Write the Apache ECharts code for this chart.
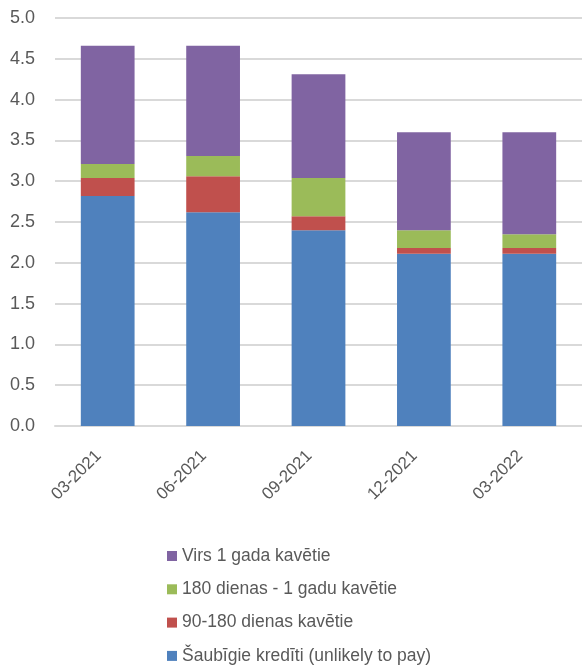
<!DOCTYPE html>
<html>
<head>
<meta charset="utf-8">
<script src="https://cdn.jsdelivr.net/npm/echarts@6/dist/echarts.min.js"></script>
<style>
html,body{margin:0;padding:0;background:#fff}
#main{width:582px;height:668px}
</style>
</head>
<body>
<div id="main"></div>
<script>
var periods=['03-2021','06-2021','09-2021','12-2021','03-2022']
var saubigie=[2.82,2.62,2.40,2.11,2.11]
var d90_180=[0.22,0.44,0.17,0.07,0.07]
var d180_1g=[0.17,0.25,0.47,0.22,0.17]
var virs1g=[1.45,1.35,1.27,1.20,1.25]
var yTicks=[0,5,0.5]

var names=['Šaubīgie kredīti (unlikely to pay)','90-180 dienas kavētie','180 dienas - 1 gadu kavētie','Virs 1 gada kavētie']
var colors=['#4f81bd','#c0504d','#9bbb59','#8064a2']
var vals=[saubigie,d90_180,d180_1g,virs1g]
var font='"Liberation Sans", Arial, sans-serif'

var chart=echarts.init(document.getElementById('main'))
var series=[]
for(var i=0;i<names.length;i++){
	series.push({
		name:names[i],
		type:'bar',
		stack:'kopa',
		barWidth:'51%',
		itemStyle:{color:colors[i]},
		data:vals[i]
	})
}
var option={
	animation:false,
	textStyle:{fontFamily:font},
	grid:{left:55,right:-3,top:18,bottom:242},
	legend:{
		orient:'vertical',
		left:162,
		top:542,
		width:400,
		height:126,
		itemWidth:10,
		itemHeight:10,
		itemGap:15.3,
		icon:'rect',
		data:names.slice().reverse(),
		textStyle:{color:'#595959',fontSize:17.5,fontFamily:font}
	},
	xAxis:{
		type:'category',
		data:periods,
		axisTick:{show:false},
		axisLine:{lineStyle:{color:'#d9d9d9',width:2}},
		axisLabel:{rotate:45,color:'#595959',fontSize:17,margin:18,padding:[0,13,0,0],fontFamily:font}
	},
	yAxis:{
		type:'value',
		min:yTicks[0],
		max:yTicks[1],
		interval:yTicks[2],
		axisLine:{show:false},
		axisTick:{show:false},
		splitLine:{lineStyle:{color:'#d9d9d9',width:2}},
		axisLabel:{color:'#595959',fontSize:18,margin:20,fontFamily:font,formatter:function(v){return v.toFixed(1)}}
	},
	series:series
}
chart.setOption(option)
</script>
</body>
</html>
